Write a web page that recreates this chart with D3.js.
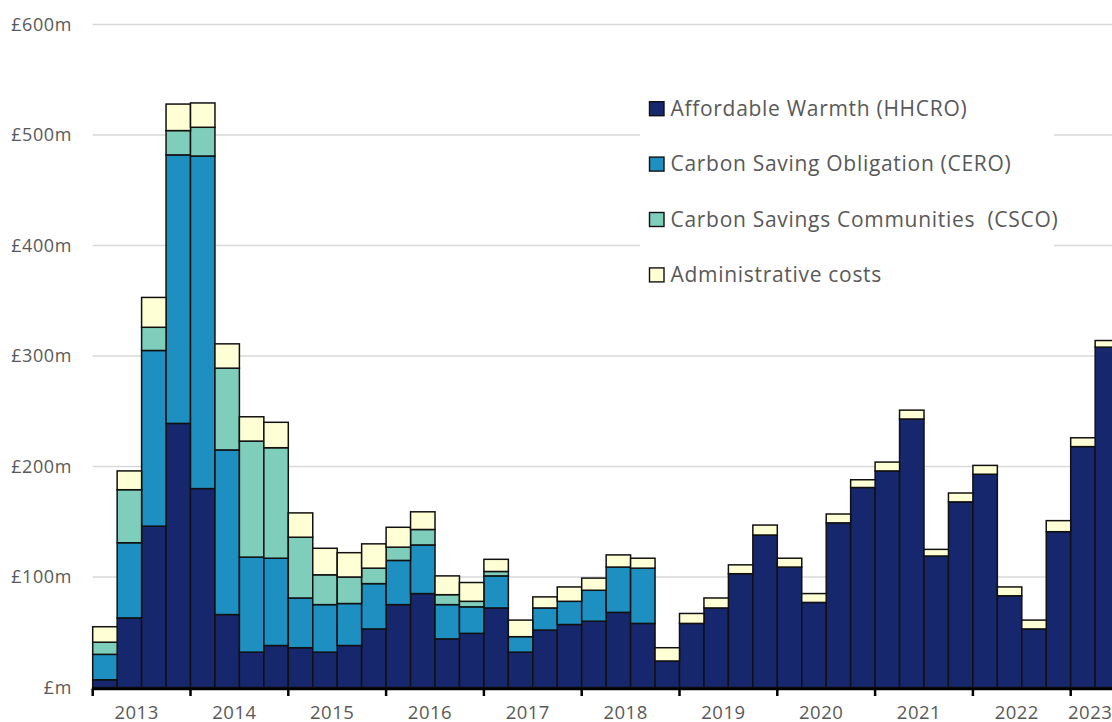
<!DOCTYPE html>
<html><head><meta charset="utf-8">
<script src="https://cdn.jsdelivr.net/npm/d3@7"></script>
<style>body{margin:0;background:#fff}svg{display:block}</style>
</head><body>
<svg id="c" width="1112" height="722"></svg>
<script>
const quarters = [];
for (let y = 2013; y <= 2023; y++) for (let q = 1; q <= 4; q++) quarters.push(y + " Q" + q);
const categories = quarters.slice(0, 42);
const years = ["2013","2014","2015","2016","2017","2018","2019","2020","2021","2022","2023"];
const hhcro = [7,63,146,239,180,66,32,38,36,32,38,53,75,85,44,49,72,32,52,57,60,68,58,24,58,72,103,138,109,77,149,181,196,243,119,168,193,83,53,141,218,308];
const cero  = [23,68,159,243,301,149,86,79,45,43,38,41,40,44,31,24,29,14,20,21,28,41,50,0,0,0,0,0,0,0,0,0,0,0,0,0,0,0,0,0,0,0];
const csco  = [11,48,21,22,26,74,105,100,55,27,24,14,12,14,9,5,4,0,0,0,0,0,0,0,0,0,0,0,0,0,0,0,0,0,0,0,0,0,0,0,0,0];
const admin = [14,17,27,24,22,22,22,23,22,24,22,22,18,16,17,17,11,15,10,13,11,11,9,12,9,9,8,9,8,8,8,7,8,8,6,8,8,8,8,10,8,6];
const seriesNames = ["Affordable Warmth (HHCRO)","Carbon Saving Obligation (CERO)","Carbon Savings Communities  (CSCO)","Administrative costs"];
const colors = ["#17276e","#1d8fc0","#7fcdbb","#ffffd6"];
const yTicks = [0,100,200,300,400,500,600];
const yTickLabels = ["£m","£100m","£200m","£300m","£400m","£500m","£600m"];

const svg = d3.select("#c");
const font = "'Open Sans', sans-serif";
const x0 = 92.7, bw = 24.45;
const x = d3.scaleBand().domain(categories).range([x0, x0 + bw * categories.length]).padding(0);
const y = d3.scaleLinear().domain([0, 600]).range([687.5, 24.5]);

// gridlines
svg.append("g").selectAll("line").data(yTicks.slice(1)).join("line")
  .attr("x1", x0).attr("x2", 1112).attr("y1", d => y(d)).attr("y2", d => y(d))
  .attr("stroke", "#d9d9d9").attr("stroke-width", 1.4);

// y labels
svg.append("g").selectAll("text").data(yTicks).join("text")
  .attr("x", 72).attr("y", d => y(d)).attr("dy", "0.36em")
  .attr("text-anchor", "end").attr("font-family", font).attr("font-size", 18)
  .attr("letter-spacing", 0.6)
  .attr("fill", "#595959").text((d, i) => yTickLabels[i]);

// legend background
svg.append("rect").attr("x", 640).attr("y", 82).attr("width", 414).attr("height", 218).attr("fill", "#fff");

// stack
const table = categories.map((c, i) => ({cat: c, a: hhcro[i], b: cero[i], c2: csco[i], d: admin[i]}));
const stack = d3.stack().keys(["a","b","c2","d"]);
const layers = stack(table);
svg.append("g").selectAll("g").data(layers).join("g")
  .attr("fill", (d, i) => colors[i])
  .selectAll("rect").data(d => d.filter(p => p[1] - p[0] > 0)).join("rect")
  .attr("x", d => x(d.data.cat)).attr("width", x.bandwidth())
  .attr("y", d => y(d[1])).attr("height", d => y(d[0]) - y(d[1]))
  .attr("stroke", "#111").attr("stroke-width", 1.5);

// axis line
svg.append("line").attr("x1", x0 - 1).attr("x2", 1112).attr("y1", 689).attr("y2", 689)
  .attr("stroke", "#000").attr("stroke-width", 2.5);
// year ticks and labels
const yearFirst = years.map(yr => categories.filter(c => c.startsWith(yr)));
svg.append("g").selectAll("line").data(yearFirst).join("line")
  .attr("x1", d => x(d[0])).attr("x2", d => x(d[0]))
  .attr("y1", 689).attr("y2", 696).attr("stroke", "#000").attr("stroke-width", 2.5);
svg.append("g").selectAll("text").data(yearFirst).join("text")
  .attr("x", d => (x(d[0]) + x(d[d.length - 1]) + x.bandwidth()) / 2 - 5)
  .attr("y", 718.5).attr("text-anchor", "middle")
  .attr("font-family", font).attr("font-size", 18.5).attr("letter-spacing", 0.5).attr("fill", "#595959")
  .text((d, i) => years[i]);

// legend
const lg = svg.append("g").selectAll("g").data(seriesNames).join("g")
  .attr("transform", (d, i) => `translate(649.5, ${108.7 + i * 55.4})`);
lg.append("rect").attr("x", 0).attr("y", -7).attr("width", 14.5).attr("height", 14)
  .attr("fill", (d, i) => colors[i]).attr("stroke", "#111").attr("stroke-width", 1.4);
lg.append("text").attr("x", 21).attr("y", 0).attr("dy", "0.35em")
  .attr("font-family", font).attr("font-size", 21).attr("letter-spacing", 0.7).attr("fill", "#595959")
  .attr("xml:space", "preserve").style("white-space", "pre").text(d => d);
</script>
</body></html>
